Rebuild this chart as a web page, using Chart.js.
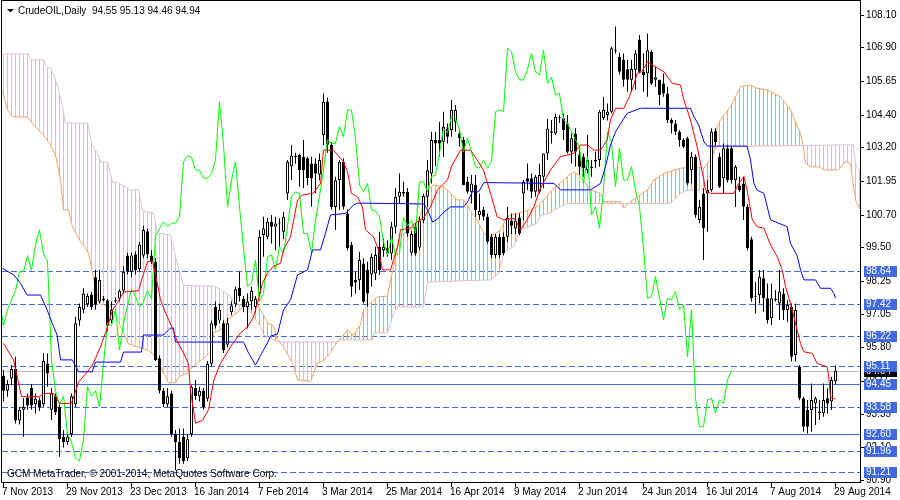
<!DOCTYPE html>
<html lang="en">
<head>
<meta charset="UTF-8">
<title>CrudeOIL, Daily</title>
<script src="https://cdn.jsdelivr.net/npm/chart.js@4"></script>
<style>
    body { margin: 0; background: #fff; }
    #chart { display: block; }
</style>
</head>
<body>
<canvas id="chart" width="900" height="500"></canvas>
<script>
// ---- price data, one entry per daily bar (bar 0 = 7 Nov 2013, bar 208 = 29 Aug 2014)
const opens = [
    94.75,94.20,94.65,95.00,93.10,93.50,93.95,94.30,93.70,93.85,
    93.70,95.21,93.50,94.00,93.60,92.50,92.30,92.60,93.70,96.80,
    97.20,97.40,97.75,98.40,97.50,97.60,97.55,96.80,97.50,97.60,
    97.90,99.20,98.60,99.25,98.70,99.20,100.10,99.20,98.97,95.40,
    94.20,93.70,94.10,92.60,92.30,92.50,91.70,92.60,94.30,94.00,
    94.20,93.90,95.20,97.30,96.80,96.70,95.90,97.10,97.40,98.00,
    97.60,97.30,97.50,97.30,97.80,99.96,99.90,100.45,100.27,100.39,
    100.08,101.50,102.50,102.85,102.92,102.86,102.80,102.61,102.61,102.20,
    103.66,104.90,103.30,101.00,102.00,102.67,100.76,99.59,98.30,98.30,
    98.91,98.67,98.50,98.54,99.53,99.40,99.47,99.28,100.27,101.38,
    101.56,101.56,99.30,100.27,99.50,100.50,101.38,102.24,103.48,103.48,
    103.41,103.90,103.85,104.15,103.72,103.48,101.93,101.56,101.81,100.70,
    100.89,100.64,99.90,99.22,99.90,99.90,99.90,100.50,100.20,100.60,
    101.50,102.06,102.06,101.56,101.56,102.12,102.98,103.80,103.72,104.30,
    104.28,104.09,103.04,103.72,102.92,102.86,102.37,102.49,102.74,102.74,
    104.28,104.40,104.52,106.80,106.56,106.44,106.09,105.70,106.07,107.18,
    106.00,105.94,106.74,105.70,105.70,105.57,105.20,104.22,104.09,103.78,
    103.48,103.54,102.37,102.86,100.52,101.50,101.50,101.63,103.80,102.86,
    102.06,103.17,103.17,102.00,101.80,101.87,101.01,99.80,97.70,97.74,
    98.36,97.62,96.88,97.58,97.43,97.80,97.19,97.31,95.52,95.09,
    93.92,93.49,93.49,93.73,93.43,93.37,93.92,93.80,94.55
];
const highs = [
    94.97,94.60,95.15,95.46,93.60,93.92,94.10,94.45,94.10,93.95,
    95.60,95.58,94.30,94.10,93.70,92.75,92.62,94.10,96.94,97.43,
    97.99,97.80,97.85,98.67,98.67,97.70,97.60,97.50,97.65,97.95,
    98.80,99.30,99.30,99.35,99.70,100.30,100.20,99.40,99.10,95.50,
    94.30,94.30,94.20,92.75,92.80,92.80,92.60,94.40,94.60,94.35,
    94.30,95.30,96.80,97.50,97.43,96.80,96.90,97.50,98.05,98.60,
    97.70,97.80,98.05,97.70,100.15,100.64,100.60,100.70,100.64,100.58,
    100.82,102.74,103.29,103.00,102.98,103.48,102.86,102.86,102.80,102.98,
    105.20,105.05,103.40,102.12,102.74,102.80,100.90,99.70,98.60,99.34,
    99.10,98.97,99.28,99.53,100.08,99.84,99.77,100.45,101.69,102.24,
    101.93,101.70,100.10,100.40,100.64,101.50,102.74,103.78,103.78,104.15,
    104.52,104.09,104.96,104.77,103.85,103.60,102.12,102.18,102.18,101.50,
    101.00,100.76,100.00,100.00,100.00,100.05,101.00,100.76,100.76,100.76,
    102.00,102.61,102.24,102.18,102.61,102.98,104.25,104.22,104.46,104.40,
    104.46,104.40,103.72,103.91,103.23,102.98,103.66,102.74,103.04,104.59,
    105.08,104.83,106.93,107.67,106.70,106.68,106.44,106.44,106.80,107.36,
    106.68,107.42,106.80,106.19,105.70,105.94,105.45,104.28,104.22,103.85,
    103.54,103.60,103.04,102.95,101.26,101.69,101.99,103.91,103.91,103.00,
    103.35,103.30,103.23,102.55,102.12,102.12,101.10,99.90,98.23,98.67,
    98.67,98.17,98.17,97.93,98.67,97.99,97.56,97.43,97.43,95.15,
    93.98,93.86,94.47,93.98,93.86,94.47,94.29,94.72,95.13
];
const lows = [
    93.80,93.98,94.40,92.99,92.95,92.50,93.50,93.50,93.36,93.45,
    93.60,94.35,93.12,93.30,91.76,92.10,92.20,92.50,93.60,96.60,
    97.06,97.30,97.19,97.20,97.43,97.50,96.39,96.70,97.45,97.50,
    97.80,98.50,98.40,98.50,98.60,99.10,99.10,98.90,95.30,94.10,
    93.60,93.60,92.50,91.27,91.50,91.50,91.60,92.50,93.86,93.80,
    93.50,93.80,95.10,96.50,96.70,95.60,95.80,97.00,97.30,97.50,
    97.10,96.50,97.20,97.10,97.70,99.16,99.80,99.65,99.40,99.53,
    99.80,101.26,102.00,102.60,101.75,101.69,101.81,101.01,101.50,101.99,
    103.29,103.00,100.90,100.15,100.89,100.90,99.40,97.68,97.80,97.93,
    97.43,97.31,98.05,98.30,98.48,99.16,99.16,99.04,100.02,101.13,
    101.38,99.90,99.20,99.20,99.40,100.40,101.01,101.87,102.50,102.86,
    102.86,103.35,103.60,103.78,103.23,101.80,101.50,101.13,100.64,100.52,
    100.50,99.65,99.10,99.10,99.10,99.20,99.70,100.00,100.00,99.96,
    100.50,101.63,101.32,101.38,101.50,101.69,102.74,103.35,103.66,104.10,
    103.48,102.98,102.61,102.49,102.18,102.12,102.24,102.12,102.43,102.49,
    104.22,104.20,104.46,106.68,105.90,105.45,105.26,105.26,105.33,105.94,
    105.26,105.08,105.51,105.45,104.77,105.08,104.10,103.72,103.66,103.23,
    103.17,101.80,101.87,100.60,100.40,99.04,100.08,101.56,103.29,101.70,
    101.50,101.90,101.87,101.00,101.56,100.52,99.40,97.50,97.06,97.43,
    97.12,96.69,96.63,97.50,96.82,96.82,96.75,95.28,95.28,93.85,
    92.68,92.62,92.68,92.93,93.12,93.24,93.36,93.49,94.46
];
const closes = [
    94.20,94.45,95.00,93.10,93.50,93.60,93.65,93.65,93.90,93.60,
    95.30,94.84,94.10,93.40,92.40,92.30,92.50,94.00,96.70,97.30,
    97.80,97.70,97.30,97.40,98.30,97.55,96.60,97.20,97.55,97.90,
    98.60,98.60,99.20,98.65,99.60,100.15,99.25,99.00,95.34,94.20,
    93.70,94.00,92.60,92.30,91.70,91.60,92.40,94.35,94.00,94.20,
    93.60,95.20,96.70,96.60,97.20,95.70,96.70,97.35,97.95,97.70,
    97.30,97.50,97.90,97.60,99.90,100.20,100.45,100.27,100.39,100.40,
    100.64,102.67,102.90,102.85,102.36,102.36,102.06,102.06,102.24,102.74,
    104.89,103.30,101.00,101.99,102.67,101.01,99.47,98.05,98.20,99.04,
    97.49,97.80,99.15,99.22,98.67,99.53,99.28,100.27,101.38,101.56,
    101.50,100.02,100.00,99.28,100.50,101.40,102.36,103.48,103.35,103.35,
    103.97,103.60,104.59,104.59,103.54,101.81,101.56,101.87,100.89,100.85,
    100.64,99.71,99.22,99.90,99.22,99.28,100.60,100.30,100.50,100.02,
    101.93,101.93,101.56,102.12,102.18,102.98,103.90,103.74,104.34,104.28,
    103.85,103.04,103.54,103.04,102.49,102.43,102.74,102.43,102.68,104.52,
    104.59,104.52,106.87,106.75,106.00,105.70,105.70,106.10,106.68,106.00,
    105.88,106.80,105.57,105.80,105.14,105.20,104.22,104.09,103.78,103.48,
    103.23,101.87,102.86,100.70,101.01,100.21,101.63,103.78,103.40,101.75,
    103.17,102.00,101.99,102.49,101.62,101.01,99.47,97.62,97.68,98.42,
    97.62,96.82,97.62,97.56,97.87,97.19,97.37,95.46,97.19,93.92,
    92.87,92.87,93.86,93.92,93.37,93.86,93.73,94.60,94.94
];

// ---- Ichimoku lines, [bar, price]
const tenkan = [
    [0,95.95],[2.5,95.34],[4.5,93.98],[9,93.98],[10,94.1],[12.5,94.1],[14,93.73],[17,93.73],
    [18.8,94.53],[21,94.9],[22.5,95.23],[24.25,95.82],[26,96.56],[27.25,97.19],[28.5,97.45],
    [30,97.85],[33.75,97.9],[34.75,98.41],[36,98.97],[37.25,99.0],[38,98.5],[39.25,97.56],
    [40.5,97.08],[42.25,96.5],[43.5,96.0],[45,95.6],[46.25,95.2],[46.75,94.2],[48,93.0],
    [49.75,93.1],[51.25,93.5],[52.6,94.6],[54.25,95.21],[56.75,95.82],[59.25,96.34],[61,96.56],
    [62.5,96.93],[63.5,97.45],[64.75,98.18],[66,98.55],[67.25,98.77],[69.25,98.92],[70,99.41],
    [71.75,99.89],[73.5,101.26],[74.75,101.44],[77.5,101.51],[79.25,101.87],[80,103.1],
    [82.5,103.1],[85,102.67],[86,102.3],[87,101.5],[88.5,101.37],[89.75,101.0],[90.5,100.15],
    [92.5,99.89],[93.75,99.41],[94.75,98.67],[96.75,98.67],[97.5,99.04],[98.5,99.52],
    [99.25,100.15],[101.75,100.22],[103,100.41],[105,100.59],[106.75,101.0],[108.5,101.63],
    [111,102.0],[112,102.5],[114.25,103.1],[116.75,103.1],[118.4,102.74],[120,102.36],
    [121.75,101.5],[123.4,100.64],[125,100.52],[127.6,100.58],[128.4,100.4],[129.25,100.15],
    [130.9,100.52],[132.6,101.01],[134.25,101.7],[136.75,102.37],[139.25,102.86],[142.6,102.98],
    [144.25,103.29],[146,103.29],[147.6,103.1],[149.25,103.1],[150.9,103.47],[151.75,104.22],
    [153,104.65],[155.1,104.65],[156.3,105.02],[157.6,105.51],[158.4,105.94],[159.6,106.0],
    [161,106.37],[162.2,106.25],[165.1,106.0],[167.2,105.57],[169.25,105.51],[170.1,104.95],
    [171.75,104.22],[173.4,103.23],[175.1,101.99],[175.5,101.62],[176.75,101.5],[182.6,101.5],
    [183.8,101.87],[185.1,102.12],[185.9,101.62],[187.2,100.52],[188.4,100.27],[190.1,100.21],
    [191.75,99.6],[193.4,99.16],[194.7,98.67],[195.5,98.05],[196.75,97.43],[197.6,96.94],
    [198.4,96.45],[199.25,95.95],[200.1,95.64],[202.2,95.58],[203.4,95.21],[205.9,95.09],
    [206.3,94.72],[206.75,93.98],[208,93.88]
];
const kijun = [
    [-0.25,98.73],[2.6,98.48],[4.25,98.17],[5.9,97.74],[9.25,97.74],[10.9,97.19],[12.2,96.69],
    [13.4,96.26],[14.25,95.34],[17.2,95.34],[18.8,94.9],[22.2,94.9],[23,95.26],[29.25,95.26],
    [30,95.63],[34.5,95.63],[35,96.26],[40,96.26],[41.75,96.52],[42.5,96.52],[43,96.0],
    [60,96.0],[61.25,95.6],[63,95.15],[64.25,95.5],[66,95.97],[66.75,96.22],[68.5,96.3],
    [70,97.19],[71.75,97.56],[73.5,98.48],[76,98.67],[77.25,99.41],[79.25,99.41],[80.5,100.03],
    [81.75,100.7],[85.5,100.76],[87.5,101.07],[88.5,101.14],[105,101.11],[106,100.9],
    [107.25,100.44],[108.5,100.55],[110,100.8],[111.75,101.0],[115,101.0],[116,101.18],
    [117.2,101.56],[118.8,101.56],[120.1,101.9],[137.6,101.87],[139.25,101.63],[146.75,101.63],
    [149.25,101.87],[150.5,102.49],[151.75,103.29],[153,103.78],[155.9,104.46],[159.25,104.65],
    [171.75,104.65],[172.6,104.34],[173.8,104.03],[175.1,103.41],[176,103.25],[185.9,103.25],
    [186.75,102.74],[187.6,101.87],[188.4,101.62],[190.1,101.5],[191.75,100.52],[195.9,100.27],
    [196.75,99.65],[198.4,99.2],[199.25,98.67],[200.1,98.3],[203,98.3],[204.25,97.99],
    [206.75,97.99],[207.6,97.8],[208,97.62]
];
const spanA = [
    [-0.25,105.3],[0,105.14],[1,104.59],[2.25,104.33],[6,104.33],[7.5,104.03],[10,103.66],[11.75,103.29],
    [13,102.92],[14.25,102.0],[15,100.89],[16.25,100.89],[17.25,100.26],[19.25,99.72],
    [20.5,99.48],[21.25,99.29],[22.25,98.6],[23,97.93],[24.25,97.4],[26.75,97.33],[28.5,96.82],
    [30,96.34],[31.25,95.93],[33.5,95.82],[36,95.71],[38.5,95.41],[40,94.86],[41.25,94.49],
    [43,94.49],[43.75,94.71],[46,94.86],[47.5,95.08],[48.75,95.26],[50,95.4],[51.75,95.63],
    [52.5,96.34],[54.25,96.45],[56,96.82],[59.25,97.19],[61,97.63],[62.5,97.67],[64.25,97.19],
    [66,96.71],[67.5,96.6],[68.5,96.08],[70,95.82],[72.25,95.23],[73.5,94.6],[76.75,94.55],
    [78.5,95.23],[80,95.3],[81.75,95.63],[83.5,96.0],[86,96.45],[87.5,96.25],[89.25,96.65],
    [90,97.19],[91.75,97.45],[93.5,97.67],[96,97.7],[96.75,98.3],[97.5,98.77],[98.5,99.5],
    [99.25,99.96],[101,100.1],[102.5,100.26],[104.25,100.7],[106,101.63],[107.5,101.81],
    [110,101.75],[111.75,101.51],[113.5,101.26],[115,101.26],[117,100.8],[118.4,100.52],
    [120.1,100.02],[121.75,99.9],[124.25,100.15],[125.9,100.64],[128.4,100.76],[131.75,100.89],
    [133.4,101.01],[135.1,101.26],[137.6,101.69],[139.25,101.9],[141,102.12],[142.6,102.3],
    [144.25,102.12],[146.75,101.63],[149.25,101.5],[150,101.19],[154.25,101.19],[155.1,100.95],
    [156.75,101.19],[158.4,101.38],[161,101.63],[162.6,102.0],[165.1,102.24],[169.25,102.43],
    [173,102.49],[175.1,102.43],[177.6,102.98],[178.4,103.97],[179.25,104.22],[181.75,104.71],
    [184.25,105.45],[186.75,105.51],[188.4,105.39],[190.9,105.33],[194.25,105.08],
    [196.75,104.59],[198,104.15],[199.25,103.73],[200,103.22],[200.5,102.62],[201.75,102.48],
    [204,102.48],[205,102.37],[208.75,102.37],[210.5,102.67],[211.75,102.6],[212.5,101.74],
    [213,101.26],[213.75,101.0],[214.25,100.9]
];
const spanB = [
    [-0.25,106.66],[6.3,106.66],[6.75,106.44],[10,106.44],[11,106.14],[11.75,106.14],[13,105.7],
    [13.75,105.33],[14.75,104.7],[15.5,104.1],[21,104.1],[22.25,103.22],[23.5,102.99],
    [24.25,102.66],[26,102.66],[27.25,101.92],[28.5,101.92],[30,101.77],[31.75,101.63],
    [33.75,101.63],[34.75,100.85],[37.5,100.77],[38.5,100.03],[41.75,99.96],[43,99.15],
    [45,98.09],[52.5,98.07],[54.25,97.95],[56.75,97.7],[57.5,97.45],[61,97.3],[62.5,96.93],
    [64.25,96.56],[65,96.26],[68.5,96.0],[83.5,96.0],[84.25,96.08],[92.25,96.08],[92.5,96.34],
    [96,96.34],[97.5,97.07],[98.5,97.3],[105,97.3],[106,98.22],[121.75,98.3],[123.8,98.54],
    [125.1,99.34],[127.6,99.53],[129.25,100.15],[133.4,100.39],[134.25,100.7],[136.75,100.76],
    [137.6,100.88],[139.25,101.01],[141,101.13],[166.75,101.13],[169.25,101.5],[170.9,101.62],
    [174.25,101.62],[175.9,101.87],[176.75,102.24],[177.6,103.1],[178.4,103.23],[212.5,103.3],
    [213,102.62],[213.75,102.37],[214.25,102.3]
];
const CHIKOU_SHIFT = 26;

// ---- axis texts
const dateBars = [0,16,32,48,64,80,96,112,128,144,160,176,192,208];
const dateLabels = ['7 Nov 2013','29 Nov 2013','23 Dec 2013','16 Jan 2014','7 Feb 2014','3 Mar 2014',
    '25 Mar 2014','16 Apr 2014','9 May 2014','2 Jun 2014','24 Jun 2014','16 Jul 2014','7 Aug 2014','29 Aug 2014'];
const priceTicks = [108.10,106.90,105.65,104.40,103.20,101.95,100.70,99.50,98.25,97.05,95.80,94.55,93.35,92.10,90.90];
const dashedLevels = [98.64,97.42,96.22,95.11,93.58,91.96,91.21];
const solidLevels = [94.45,92.60];
const bidPrice = 94.94;

const X_MIN = -0.375, X_MAX = 214.125;
const Y_MAX = 108.618, Y_MIN = 90.823;
const FONT = '10px "Liberation Sans", Arial, sans-serif';
const LEVEL_COLOR = '#4169E1';

const canvas = document.getElementById('chart');
const ctx = canvas.getContext('2d');

// vertical hatch, one line per bar, like the terminal's cloud
function hatch(color) {
    const c = document.createElement('canvas');
    c.width = 4; c.height = 1;
    const g = c.getContext('2d');
    g.fillStyle = color;
    g.fillRect(3, 0, 1, 1);
    return ctx.createPattern(c, 'repeat');
}

const toXY = arr => arr.map(p => ({ x: p[0], y: p[1] }));
const wickData = highs.map((h, i) => ({ x: i, y: [lows[i], h] }));
const bodyData = opens.map((o, i) => ({ x: i, y: [o, closes[i]] }));
const bodyColors = opens.map((o, i) => closes[i] >= o ? '#FFFFFF' : '#000000');
const chikou = closes.map((c, i) => ({ x: i - CHIKOU_SHIFT, y: c }));

const lineBase = { type: 'line', borderWidth: 1, pointRadius: 0, tension: 0, fill: false };

const mtPlugin = {
    id: 'mt',
    beforeDatasetsDraw(chart) {
        const { ctx, chartArea: a, scales: { y } } = chart;
        ctx.save();
        ctx.lineWidth = 1;
        const hline = (v, color, dash) => {
            const py = Math.round(y.getPixelForValue(v)) + 0.5;
            ctx.strokeStyle = color;
            ctx.setLineDash(dash);
            ctx.beginPath();
            ctx.moveTo(a.left, py);
            ctx.lineTo(a.right, py);
            ctx.stroke();
        };
        hline(bidPrice, '#C0C0C0', []);
        dashedLevels.forEach(v => hline(v, LEVEL_COLOR, [6, 3]));
        solidLevels.forEach(v => hline(v, LEVEL_COLOR, []));
        ctx.restore();
    },
    afterDraw(chart) {
        const { ctx, chartArea: a, scales: { x, y } } = chart;
        ctx.save();
        ctx.lineWidth = 1;
        ctx.strokeStyle = '#000';
        ctx.setLineDash([]);
        ctx.strokeRect(a.left - 0.5, a.top - 0.5, a.right - a.left + 1, a.bottom - a.top + 1);

        ctx.font = FONT;
        ctx.fillStyle = '#000';
        ctx.textBaseline = 'middle';

        // price scale
        priceTicks.forEach(v => {
            const py = Math.round(y.getPixelForValue(v)) + 0.5;
            ctx.beginPath();
            ctx.moveTo(a.right, py);
            ctx.lineTo(a.right + 4, py);
            ctx.stroke();
            ctx.fillText(v.toFixed(2), a.right + 6, py);
        });

        const tag = (v, bg) => {
            const py = Math.round(y.getPixelForValue(v));
            ctx.fillStyle = bg;
            ctx.fillRect(a.right + 4, py - 5, 33, 11);
            ctx.fillStyle = '#fff';
            ctx.fillText(v.toFixed(2), a.right + 6, py + 0.5);
        };
        tag(bidPrice, '#000');
        dashedLevels.concat(solidLevels).forEach(v => tag(v, LEVEL_COLOR));

        // time scale
        ctx.fillStyle = '#000';
        dateBars.forEach((b, i) => {
            const px = Math.floor(x.getPixelForValue(b)) + 0.5;
            ctx.beginPath();
            ctx.moveTo(px, a.bottom);
            ctx.lineTo(px, a.bottom + 5);
            ctx.stroke();
            ctx.fillText(dateLabels[i], px - 1.5, a.bottom + 10);
        });

        // header and footer texts
        ctx.beginPath();
        ctx.moveTo(7, 9);
        ctx.lineTo(14, 9);
        ctx.lineTo(10.5, 12.5);
        ctx.closePath();
        ctx.fill();
        ctx.fillText('CrudeOIL,Daily  94.55 95.13 94.46 94.94', 18, 11);
        ctx.fillText('GCM MetaTrader, \u00A9 2001-2014, MetaQuotes Software Corp.', 7, 474);
        ctx.restore();
    }
};

new Chart(ctx, {
    type: 'bar',
    data: {
        datasets: [
            Object.assign({}, lineBase, {
                label: 'Senkou Span A', data: toXY(spanA), borderColor: '#F4A460', order: 10,
                fill: { target: '+1', above: hatch('#F4A460'), below: hatch('#D8BFD8') }
            }),
            Object.assign({}, lineBase, {
                label: 'Senkou Span B', data: toXY(spanB), borderColor: '#D8BFD8', order: 9
            }),
            {
                type: 'bar', label: 'Wicks', data: wickData, backgroundColor: '#000',
                borderWidth: 0, barThickness: 1, grouped: false, inflateAmount: 0, order: 6
            },
            {
                type: 'bar', label: 'Bodies', data: bodyData, backgroundColor: bodyColors,
                borderColor: '#000', borderWidth: 1, borderSkipped: false, barThickness: 3,
                minBarLength: 1, grouped: false, inflateAmount: 0, order: 5
            },
            Object.assign({}, lineBase, { label: 'Chikou Span', data: chikou, borderColor: '#00FF00', order: 3 }),
            Object.assign({}, lineBase, { label: 'Kijun-sen', data: toXY(kijun), borderColor: '#0000FF', order: 2 }),
            Object.assign({}, lineBase, { label: 'Tenkan-sen', data: toXY(tenkan), borderColor: '#FF0000', order: 1 })
        ]
    },
    options: {
        responsive: false,
        animation: false,
        events: [],
        layout: { padding: { left: 2, top: 1, right: 40, bottom: 18 } },
        plugins: { legend: { display: false }, tooltip: { enabled: false } },
        scales: {
            x: { type: 'linear', min: X_MIN, max: X_MAX, offset: false, display: false },
            y: { type: 'linear', min: Y_MIN, max: Y_MAX, display: false }
        }
    },
    plugins: [mtPlugin]
});
</script>
</body>
</html>
